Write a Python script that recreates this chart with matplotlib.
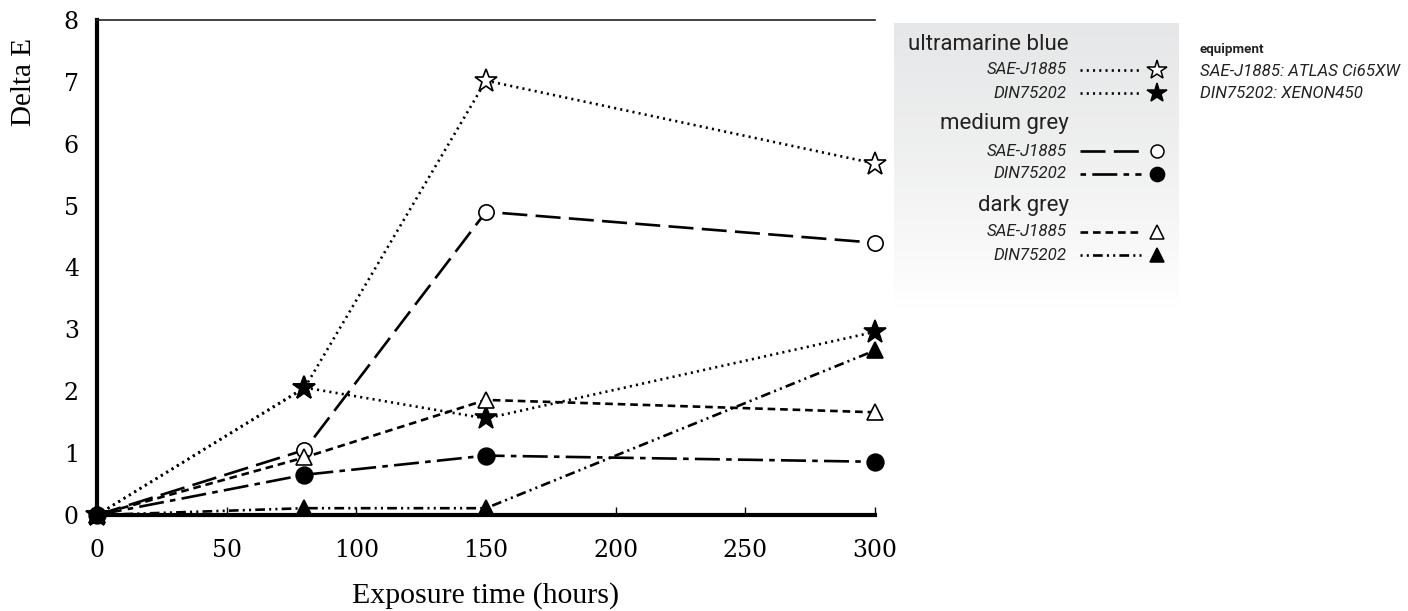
import numpy as np
import matplotlib.pyplot as plt
from matplotlib.lines import Line2D

plt.rcParams['lines.scale_dashes'] = False

# --- data ---
hours = [0, 80, 150, 300]
ultra_sae = [0, 2.05, 7.02, 5.68]
ultra_din = [0, 2.06, 1.56, 2.96]
medium_sae = [0, 1.05, 4.9, 4.4]
medium_din = [0, 0.65, 0.96, 0.86]
dark_sae = [0, 0.93, 1.86, 1.66]
dark_din = [0, 0.11, 0.11, 2.66]

x_ticks = [0, 50, 100, 150, 200, 250, 300]
y_ticks = [0, 1, 2, 3, 4, 5, 6, 7, 8]

# line styles (in points)
DOT = (0, (1.5, 3))
LONG = (0, (18, 6))
LONG_DOT = (0, (18, 4.5, 4, 4.5))
SHORT = (0, (5.5, 3.5))
DASH_DOT_DOT = (0, (7, 3, 1.5, 3, 1.5, 3))

series = [
    (ultra_sae, DOT, '*', 'white', 17),
    (ultra_din, DOT, '*', 'black', 17),
    (medium_sae, LONG, 'o', 'white', 11),
    (medium_din, LONG_DOT, 'o', 'black', 12),
    (dark_sae, SHORT, '^', 'white', 12),
    (dark_din, DASH_DOT_DOT, '^', 'black', 12),
]
# legend samples start at a different point of the dash cycle
legend_styles = [DOT, DOT, LONG, (22.5, (18, 4.5, 4, 4.5)), SHORT,
                 (10, (7, 3, 1.5, 3, 1.5, 3))]

serif = ['DejaVu Serif']
label_serif = ['Liberation Serif', 'DejaVu Serif']
narrow = ['Liberation Sans Narrow', 'Roboto', 'DejaVu Sans']

fig = plt.figure(figsize=(14.08, 6.11), dpi=100)

# --- legend background (pixel coordinates overlay) ---
bg = fig.add_axes([0, 0, 1, 1], zorder=0)
bg.set_xlim(0, 1408)
bg.set_ylim(611, 0)
bg.axis('off')
grad = np.linspace(0, 1, 256).reshape(-1, 1)
top = np.array([0.905, 0.908, 0.912])
cols = top[None, None, :] + (1 - top[None, None, :]) * grad[:, :, None] ** 1.3
bg.imshow(cols, extent=[894, 1179, 310, 23], aspect='auto', zorder=0)

ax = fig.add_axes([97 / 1408, 1 - 515 / 611, 778 / 1408, 495 / 611], zorder=2)
ax.patch.set_alpha(0)

for vals, ls, mk, fc, ms in series:
    ax.plot(hours, vals, color='black', lw=1.9, linestyle=ls, marker=mk,
            markerfacecolor=fc, markeredgecolor='black', markeredgewidth=1.2,
            markersize=ms, clip_on=False)

ax.set_xlim(0, 300)
ax.set_ylim(0, 8)
ax.set_xticks(x_ticks)
ax.set_yticks(y_ticks)
ax.tick_params(axis='x', direction='in', length=6, width=1, pad=17,
               labelsize=17)
ax.tick_params(axis='y', length=0, pad=13, labelsize=17)
for lab in ax.get_xticklabels() + ax.get_yticklabels():
    lab.set_family(serif)

ax.spines['right'].set_visible(False)
ax.spines['left'].set_linewidth(3)
ax.spines['bottom'].set_linewidth(3)
ax.spines['top'].set_linewidth(1.2)
ax.spines['top'].set_color('#222222')

ax.set_xlabel('Exposure time (hours)', fontsize=21.5, family=label_serif)
ax.xaxis.set_label_coords(0.5, -0.136)
ax.set_ylabel('Delta E', fontsize=21, family=label_serif)
ax.yaxis.set_label_coords(-0.077, 0.875)

# --- legend drawn in pixel coordinates ---
lg = fig.add_axes([0, 0, 1, 1], zorder=3)
lg.set_xlim(0, 1408)
lg.set_ylim(611, 0)
lg.axis('off')

text_col = '#222222'
groups = [
    ('ultramarine blue', 45, [(70, 0), (93, 1)]),
    ('medium grey', 123, [(151, 2), (174, 3)]),
    ('dark grey', 206, [(232, 4), (255, 5)]),
]
names = ['SAE-J1885', 'DIN75202']
for title, ty, rows in groups:
    lg.text(1069, ty, title, ha='right', va='center', fontsize=16,
            family=narrow, color=text_col)
    for i, (ry, k) in enumerate(rows):
        vals, ls, mk, fc, ms = series[k]
        lg.text(1067, ry, names[i], ha='right', va='center', fontsize=12.2,
                style='italic', family=narrow, color=text_col)
        lg.add_line(Line2D([1080, 1141], [ry, ry], color='black', lw=1.9,
                           linestyle=legend_styles[k]))
        lg.plot([1157], [ry], marker=mk, markerfacecolor=fc,
                markeredgecolor='black', markeredgewidth=1.1,
                markersize=ms * 0.85 if mk != '*' else 15, color='black')

lg.text(1200, 49, 'equipment', ha='left', va='center', fontsize=9.6,
        fontweight='bold', family=narrow, color=text_col)
lg.text(1200, 71, 'SAE-J1885: ATLAS Ci65XW', ha='left', va='center',
        fontsize=12.2, style='italic', family=narrow, color=text_col)
lg.text(1200, 93, 'DIN75202: XENON450', ha='left', va='center',
        fontsize=12.2, style='italic', family=narrow, color=text_col)

fig.savefig('out.png', dpi=100)
